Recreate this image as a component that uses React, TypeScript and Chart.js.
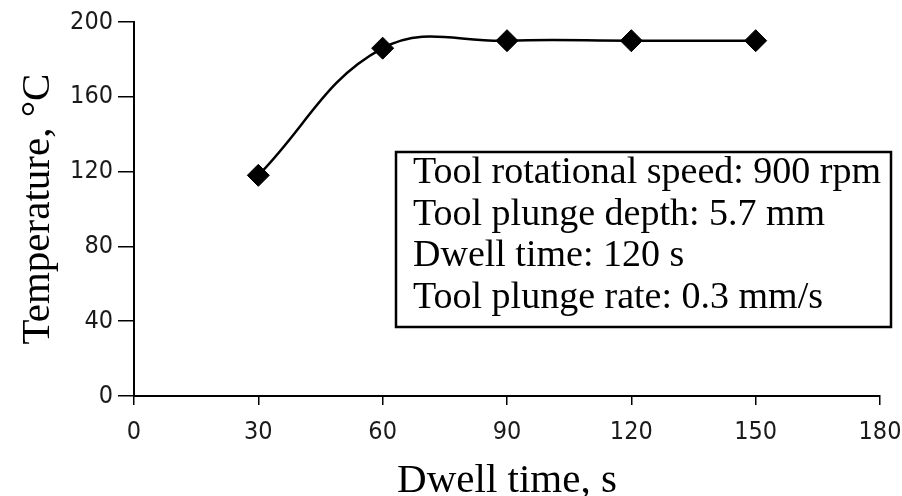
import React, { useEffect, useRef } from "react";
import { Chart, registerables } from "chart.js";

Chart.register(...registerables);

const dwellTimes = [30, 60, 90, 120, 150];
const temperatures = [118, 186, 190, 190, 190];
const xTicks = [0, 30, 60, 90, 120, 150, 180];
const yTicks = [0, 40, 80, 120, 160, 200];
const infoLines = [
  "Tool rotational speed: 900 rpm",
  "Tool plunge depth: 5.7 mm",
  "Dwell time: 120 s",
  "Tool plunge rate: 0.3 mm/s",
];
const xTitle = "Dwell time, s";
const yTitle = "Temperature, \u00B0C";

const tickFamily = "'DejaVu Sans Condensed', 'Liberation Sans', Arial, sans-serif";
const serifFamily = "'Liberation Serif', 'Times New Roman', serif";

const whiteBg = {
  id: "whiteBg",
  beforeDraw(chart: any) {
    const { ctx, width, height } = chart;
    ctx.save();
    ctx.fillStyle = "#ffffff";
    ctx.fillRect(0, 0, width, height);
    ctx.restore();
  },
};

const infoBox = {
  id: "infoBox",
  afterDraw(chart: any) {
    const { ctx } = chart;
    const left = 396;
    const top = 152;
    const right = 891;
    const bottom = 327;
    ctx.save();
    ctx.fillStyle = "#ffffff";
    ctx.fillRect(left, top, right - left, bottom - top);
    ctx.strokeStyle = "#000000";
    ctx.lineWidth = 2.5;
    ctx.strokeRect(left, top, right - left, bottom - top);
    ctx.fillStyle = "#000000";
    ctx.font = "38px " + serifFamily;
    ctx.textBaseline = "alphabetic";
    ctx.textAlign = "left";
    infoLines.forEach((line, i) => {
      ctx.fillText(line, 413, 183 + i * 41.7);
    });
    ctx.restore();
  },
};

export default function App() {
  const canvasRef = useRef<HTMLCanvasElement>(null);

  useEffect(() => {
    if (!canvasRef.current) return;
    const chart = new Chart(canvasRef.current, {
      type: "line",
      data: {
        datasets: [
          {
            data: dwellTimes.map((x, i) => ({ x, y: temperatures[i] })),
            borderColor: "#000000",
            borderWidth: 2.5,
            tension: 0.4,
            pointStyle: "rectRot",
            pointRadius: 11,
            pointBackgroundColor: "#000000",
            pointBorderColor: "#000000",
            pointBorderWidth: 1,
            clip: false,
          },
        ],
      },
      options: {
        responsive: false,
        animation: false,
        devicePixelRatio: 1,
        layout: { padding: { top: 22, right: 22, left: 0, bottom: 0 } },
        plugins: {
          legend: { display: false },
          tooltip: { enabled: false },
        },
        scales: {
          x: {
            type: "linear",
            min: 0,
            max: 180,
            afterBuildTicks: (s: any) => {
              s.ticks = xTicks.map((v) => ({ value: v }));
            },
            afterFit: (s: any) => {
              s.height = 100;
              s.paddingLeft = 0;
              s.paddingRight = 0;
            },
            border: { display: true, color: "#000000", width: 2 },
            grid: {
              drawOnChartArea: false,
              drawTicks: true,
              tickLength: 9,
              color: "#000000",
              lineWidth: 1.5,
            },
            ticks: {
              color: "#1a1a1a",
              padding: 17,
              maxRotation: 0,
              font: { family: tickFamily, size: 25, lineHeight: 0.8 },
            },
            title: {
              display: true,
              text: xTitle,
              color: "#000000",
              padding: { top: 0, bottom: 0 },
              font: { family: serifFamily, size: 41, lineHeight: 0.7 },
            },
          },
          y: {
            type: "linear",
            min: 0,
            max: 200,
            afterBuildTicks: (s: any) => {
              s.ticks = yTicks.map((v) => ({ value: v }));
            },
            afterFit: (s: any) => {
              s.width = 134;
              s.paddingTop = 0;
              s.paddingBottom = 0;
            },
            border: { display: true, color: "#000000", width: 2 },
            grid: {
              drawOnChartArea: false,
              drawTicks: true,
              tickLength: 16,
              color: "#000000",
              lineWidth: 1.5,
            },
            ticks: {
              color: "#1a1a1a",
              padding: 5,
              font: { family: tickFamily, size: 25 },
            },
            title: {
              display: true,
              text: yTitle,
              color: "#000000",
              padding: { top: 18, bottom: 0 },
              font: { family: serifFamily, size: 41, lineHeight: 1 },
            },
          },
        },
      },
      plugins: [whiteBg, infoBox],
    } as any);
    return () => chart.destroy();
  }, []);

  return (
    <div style={{ position: "absolute", left: 0, top: 0, width: 902, height: 496 }}>
      <canvas ref={canvasRef} width={902} height={496} style={{ display: "block" }} />
    </div>
  );
}
